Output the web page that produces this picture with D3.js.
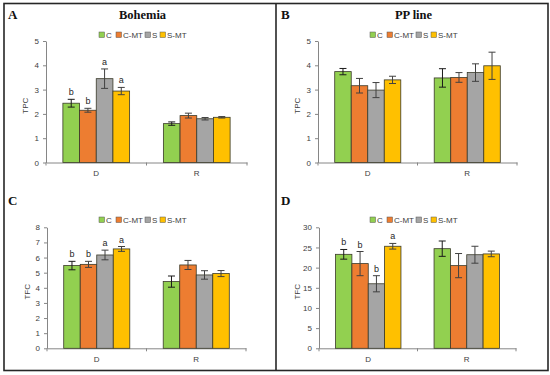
<!DOCTYPE html>
<html>
<head>
<meta charset="utf-8">
<script src="https://cdn.jsdelivr.net/npm/d3@7"></script>
<style>
  body { margin: 0; background: #fff; }
  svg text { font-family: "Liberation Sans", "DejaVu Sans", sans-serif; }
</style>
</head>
<body>
<div id="chart"></div>
<script>
// categories and series
var categories = ["D", "R"];
var series = ["C", "C-MT", "S", "S-MT"];
var seriesColors = ["#92D050", "#ED7D31", "#A5A5A5", "#FFC000"];

// A: TPC Bohemia (rows = D, R)
var tpcBohemia = [[2.44, 2.15, 3.45, 2.94], [1.60, 1.93, 1.80, 1.86]];
var tpcBohemiaErr = [[0.16, 0.08, 0.40, 0.15], [0.07, 0.10, 0.05, 0.03]];
var tpcBohemiaLetters = [["b", "b", "a", "a"], ["", "", "", ""]];

// B: TPC PP line
var tpcPP = [[3.74, 3.16, 2.98, 3.40], [3.48, 3.50, 3.70, 3.98]];
var tpcPPErr = [[0.13, 0.30, 0.31, 0.15], [0.38, 0.20, 0.36, 0.56]];

// C: TFC Bohemia
var tfcBohemia = [[5.47, 5.55, 6.17, 6.57], [4.41, 5.51, 4.85, 4.94]];
var tfcBohemiaErr = [[0.28, 0.20, 0.32, 0.16], [0.37, 0.30, 0.28, 0.20]];
var tfcBohemiaLetters = [["b", "b", "a", "a"], ["", "", "", ""]];

// D: TFC PP line
var tfcPP = [[23.3, 21.0, 16.0, 25.3], [24.7, 20.5, 23.2, 23.4]];
var tfcPPErr = [[1.2, 3.0, 2.0, 0.7], [1.9, 3.0, 2.1, 0.7]];
var tfcPPLetters = [["b", "b", "b", "a"], ["", "", "", ""]];

var tpcTicks = [0, 1, 2, 3, 4, 5];
var tfcBohemiaTicks = [0, 1, 2, 3, 4, 5, 6, 7, 8];
var tfcPPTicks = [0, 5, 10, 15, 20, 25, 30];

var W = 550, H = 375;
var svg = d3.select("#chart").append("svg")
    .attr("width", W)
    .attr("height", H);

// frame
svg.append("rect")
    .attr("x", 4).attr("y", 3.5)
    .attr("width", 544).attr("height", 367)
    .attr("fill", "none")
    .attr("stroke", "#262626")
    .attr("stroke-width", 1.6);
svg.append("line")
    .attr("x1", 276).attr("x2", 276)
    .attr("y1", 3.5).attr("y2", 370.5)
    .attr("stroke", "#262626")
    .attr("stroke-width", 1.6);

function drawPanel(p) {
    var g = svg.append("g");

    var x0 = d3.scaleBand()
        .domain(categories)
        .range([p.left, p.right])
        .padding(0);
    var bw = x0.bandwidth();
    var x1 = d3.scaleBand()
        .domain(series)
        .range([bw * 0.168, bw * 0.832])
        .padding(0);
    var y = d3.scaleLinear()
        .domain([0, p.max])
        .range([p.bottom, p.top]);

    // panel letter
    g.append("text")
        .attr("x", p.letterX).attr("y", p.letterY)
        .style("font-family", "'Liberation Serif', 'DejaVu Serif', serif")
        .style("font-weight", "bold")
        .style("font-size", "13px")
        .attr("fill", "#111")
        .text(p.letter);

    // title
    if (p.title) {
        g.append("text")
            .attr("x", (p.left + p.right) / 2 - 4).attr("y", p.letterY)
            .attr("text-anchor", "middle")
            .style("font-family", "'Liberation Serif', 'DejaVu Serif', serif")
            .style("font-weight", "bold")
            .style("font-size", "12.5px")
            .attr("fill", "#111")
            .text(p.title);
    }

    // legend
    var legendX = [0, 17, 46, 61];
    var leg = g.append("g")
        .attr("transform", "translate(" + p.legendX + "," + p.legendY + ")");
    series.forEach(function(s, i) {
        leg.append("rect")
            .attr("x", legendX[i]).attr("y", -3)
            .attr("width", 5.5).attr("height", 5.5)
            .attr("fill", seriesColors[i])
            .attr("stroke", "#555")
            .attr("stroke-width", 0.5);
        leg.append("text")
            .attr("x", legendX[i] + 7).attr("y", 0)
            .attr("dy", "0.35em")
            .style("font-size", "8px")
            .attr("fill", "#404040")
            .text(s);
    });

    // y axis
    var yAxis = g.append("g")
        .attr("transform", "translate(" + p.left + ",0)")
        .call(d3.axisLeft(y).tickValues(p.ticks).tickFormat(d3.format("d"))
            .tickSize(3).tickPadding(4).tickSizeOuter(0));
    yAxis.select(".domain").attr("stroke", "#868686");
    yAxis.selectAll(".tick line").attr("stroke", "#868686");
    yAxis.selectAll(".tick text")
        .style("font-size", "8px")
        .style("font-family", "'Liberation Sans', sans-serif")
        .attr("fill", "#404040");

    // x axis
    var xAxis = g.append("g")
        .attr("transform", "translate(0," + p.bottom + ")")
        .call(d3.axisBottom(x0).tickSize(0).tickPadding(8));
    xAxis.select(".domain").attr("stroke", "#868686");
    xAxis.selectAll(".tick text")
        .style("font-size", "8px")
        .attr("fill", "#404040");
    // category boundary ticks
    var bounds = [p.left, p.left + bw, p.right];
    g.selectAll(".bound")
        .data(bounds)
        .enter()
        .append("line")
        .attr("x1", function(d) { return d; })
        .attr("x2", function(d) { return d; })
        .attr("y1", p.bottom)
        .attr("y2", p.bottom + 3)
        .attr("stroke", "#868686");

    // y label
    g.append("text")
        .attr("transform", "translate(" + p.ylabelX + "," + ((p.top + p.bottom) / 2 + 4) + ") rotate(-90)")
        .attr("text-anchor", "middle")
        .style("font-size", "8px")
        .attr("fill", "#404040")
        .text(p.ylabel);

    // bars
    var rows = [];
    categories.forEach(function(c, ci) {
        series.forEach(function(s, si) {
            rows.push({
                cat: c, ser: s, si: si,
                v: p.values[ci][si],
                e: p.errors[ci][si],
                l: p.letters ? p.letters[ci][si] : ""
            });
        });
    });

    var bar = g.selectAll(".bar")
        .data(rows)
        .enter()
        .append("g");

    bar.append("rect")
        .attr("x", function(d) { return x0(d.cat) + x1(d.ser); })
        .attr("y", function(d) { return y(d.v); })
        .attr("width", x1.bandwidth())
        .attr("height", function(d) { return y(0) - y(d.v); })
        .attr("fill", function(d) { return seriesColors[d.si]; })
        .attr("stroke", "#3a3a2a")
        .attr("stroke-width", 0.8);

    var cx = function(d) { return x0(d.cat) + x1(d.ser) + x1.bandwidth() / 2; };
    var errColor = function(d) { return d.si === 0 ? "#1a1a1a" : "#404040"; };

    bar.append("line")
        .attr("x1", cx).attr("x2", cx)
        .attr("y1", function(d) { return y(d.v + d.e); })
        .attr("y2", function(d) { return y(d.v - d.e); })
        .attr("stroke", errColor)
        .attr("stroke-width", 1);
    [1, -1].forEach(function(sign) {
        bar.append("line")
            .attr("x1", function(d) { return cx(d) - 3.5; })
            .attr("x2", function(d) { return cx(d) + 3.5; })
            .attr("y1", function(d) { return y(d.v + sign * d.e); })
            .attr("y2", function(d) { return y(d.v + sign * d.e); })
            .attr("stroke", errColor)
            .attr("stroke-width", 1);
    });

    bar.append("text")
        .attr("x", cx)
        .attr("y", function(d) { return y(d.v + d.e) - 4; })
        .attr("text-anchor", "middle")
        .style("font-size", "9px")
        .attr("fill", "#262626")
        .text(function(d) { return d.l; });
}

drawPanel({
    letter: "A", letterX: 8, letterY: 19, title: "Bohemia",
    left: 46, right: 247, top: 41, bottom: 162.5, max: 5, ticks: tpcTicks,
    ylabel: "TPC", ylabelX: 28, legendX: 99, legendY: 35,
    values: tpcBohemia, errors: tpcBohemiaErr, letters: tpcBohemiaLetters
});
drawPanel({
    letter: "B", letterX: 281, letterY: 19, title: "PP line",
    left: 318, right: 517, top: 41, bottom: 162.5, max: 5, ticks: tpcTicks,
    ylabel: "TPC", ylabelX: 300, legendX: 370, legendY: 35,
    values: tpcPP, errors: tpcPPErr, letters: null
});
drawPanel({
    letter: "C", letterX: 8, letterY: 205, title: null,
    left: 47, right: 246, top: 227.3, bottom: 348.3, max: 8, ticks: tfcBohemiaTicks,
    ylabel: "TFC", ylabelX: 30, legendX: 99, legendY: 220,
    values: tfcBohemia, errors: tfcBohemiaErr, letters: tfcBohemiaLetters
});
drawPanel({
    letter: "D", letterX: 281, letterY: 205, title: null,
    left: 319, right: 516, top: 227.3, bottom: 348.3, max: 30, ticks: tfcPPTicks,
    ylabel: "TFC", ylabelX: 300, legendX: 370, legendY: 220,
    values: tfcPP, errors: tfcPPErr, letters: tfcPPLetters
});
</script>
</body>
</html>
